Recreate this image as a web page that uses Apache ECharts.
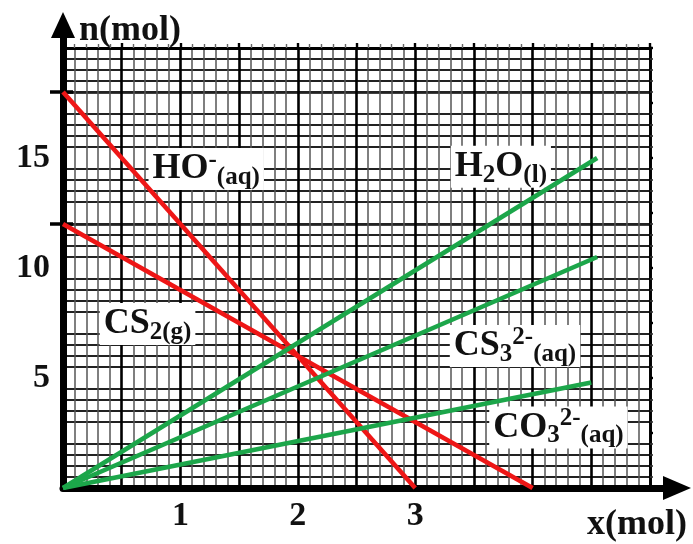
<!DOCTYPE html>
<html>
<head>
<meta charset="utf-8">
<script src="https://cdn.jsdelivr.net/npm/echarts@6/dist/echarts.min.js"></script>
<style>html,body{margin:0;padding:0;background:#fff}#c{width:693px;height:544px}</style>
</head>
<body>
<div id="c"></div>
<script>
// ---- data ----
const hydroxide = [[0, 18], [3, 0]];
const carbonDisulfide = [[0, 12], [4, 0]];
const water = [[0, 0], [4.55, 15]];
const trithiocarbonate = [[0, 0], [4.55, 10.5]];
const carbonate = [[0, 0], [4.5, 4.8]];
const xTickLabels = [1, 2, 3];
const yTickLabels = [5, 10, 15];
const yMarkTicks = [12, 18];
const xName = 'x(mol)';
const yName = 'n(mol)';

const SERIF = '"Liberation Serif", "Times New Roman", serif';
const RED = '#ee1616';
const GREEN = '#1ca64a';

const rich = {
  b: {fontFamily: SERIF, fontWeight: 'bold', fontSize: 36, color: '#111', lineHeight: 42, verticalAlign: 'middle'},
  sub: {fontFamily: SERIF, fontWeight: 'bold', fontSize: 25, color: '#111', lineHeight: 22, verticalAlign: 'bottom'},
  sub2: {fontFamily: SERIF, fontWeight: 'bold', fontSize: 25, color: '#111', lineHeight: 30, verticalAlign: 'bottom'},
  sup: {fontFamily: SERIF, fontWeight: 'bold', fontSize: 25, color: '#111', lineHeight: 22, verticalAlign: 'top'}
};

function tag(coord, text) {
  return {
    symbol: 'rect', symbolSize: 1, itemStyle: {color: 'rgba(0,0,0,0)'},
    label: {show: true, position: 'inside', formatter: text, backgroundColor: '#fff', padding: [0, 4, 0, 4], rich: rich},
    data: [{coord: coord}]
  };
}

function lineSeries(name, data, color, mark) {
  return {
    name: name, type: 'line', xAxisIndex: 0, yAxisIndex: 0, data: data,
    showSymbol: false, symbol: 'none', z: 5,
    lineStyle: {color: color, width: 4.6, cap: 'butt'},
    markPoint: mark, animation: false
  };
}

const chart = echarts.init(document.getElementById('c'));
const major = {show: true, lineStyle: {color: '#000', width: 2.6}};
const labelFont = {fontFamily: SERIF, fontWeight: 'bold', fontSize: 34, color: '#111'};

chart.setOption({
  animation: false,
  backgroundColor: '#fff',
  grid: [
    {left: 63, top: 48, width: 587, height: 440, containLabel: false},
    {left: 63, top: 25, width: 614, height: 463, containLabel: false}
  ],
  xAxis: [
    {
      gridIndex: 0, type: 'value', min: 0, max: 5, interval: 0.5, position: 'bottom',
      axisLine: {show: false}, axisTick: {show: false},
      axisLabel: {customValues: xTickLabels, margin: 11, ...labelFont},
      splitLine: major,
      minorTick: {show: false, splitNumber: 5},
      minorSplitLine: {show: true, lineStyle: {color: '#555', width: 1.5}}
    },
    {
      gridIndex: 0, type: 'value', min: 0, max: 5, interval: 0.5, position: 'top',
      axisLine: {show: true, onZero: false, lineStyle: {color: '#000', width: 2.8}},
      axisTick: {show: true, length: 5, lineStyle: {color: '#000', width: 2.4}},
      minorTick: {show: true, splitNumber: 5, length: 4, lineStyle: {color: '#666', width: 1.4}},
      axisLabel: {show: false}, splitLine: {show: false}
    },
    {
      gridIndex: 1, type: 'value', min: 0, max: 1, name: xName, nameLocation: 'end', nameGap: 10,
      nameTextStyle: {fontFamily: SERIF, fontWeight: 'bold', fontSize: 36, color: '#111', align: 'right', verticalAlign: 'top', padding: [19, 0, 0, 0]},
      axisLine: {show: true, onZero: false, symbol: ['none', 'triangle'], symbolSize: [24, 28], lineStyle: {color: '#000', width: 7}},
      axisTick: {show: false}, axisLabel: {show: false}, splitLine: {show: false}
    }
  ],
  yAxis: [
    {
      gridIndex: 0, type: 'value', min: 0, max: 20, interval: 2.5, position: 'left',
      axisLine: {show: false},
      axisTick: {show: true, customValues: yMarkTicks, length: 13, lineStyle: {color: '#000', width: 3.5}},
      axisLabel: {customValues: yTickLabels, margin: 13, ...labelFont},
      splitLine: major,
      minorTick: {show: false, splitNumber: 5},
      minorSplitLine: {show: true, lineStyle: {color: '#222', width: 1.9}}
    },
    {
      gridIndex: 0, type: 'value', min: 0, max: 20, interval: 2.5, position: 'left',
      axisLine: {show: false},
      axisTick: {show: true, inside: true, customValues: yMarkTicks, length: 10, lineStyle: {color: '#000', width: 3.5}},
      axisLabel: {show: false}, splitLine: {show: false}
    },
    {
      gridIndex: 0, type: 'value', min: 0, max: 20, interval: 2.5, position: 'right',
      axisLine: {show: true, onZero: false, lineStyle: {color: '#000', width: 2.8}},
      axisTick: {show: true, length: 3, lineStyle: {color: '#000', width: 2.4}},
      minorTick: {show: true, splitNumber: 5, length: 3, lineStyle: {color: '#333', width: 1.6}},
      axisLabel: {show: false}, splitLine: {show: false}
    },
    {
      gridIndex: 1, type: 'value', min: 0, max: 1, name: yName, nameLocation: 'end', nameGap: -6,
      nameTextStyle: {fontFamily: SERIF, fontWeight: 'bold', fontSize: 36, color: '#111', align: 'left', verticalAlign: 'middle', padding: [0, 0, 0, 16]},
      axisLine: {show: true, onZero: false, symbol: ['none', 'triangle'], symbolSize: [24, 26], lineStyle: {color: '#000', width: 7}},
      axisTick: {show: false}, axisLabel: {show: false}, splitLine: {show: false}
    }
  ],
  series: [
    lineSeries('HO⁻(aq)', hydroxide, RED, tag([1.22, 14.5], '{b|HO}{sup|-}{sub|(aq)}')),
    lineSeries('CS₂(g)', carbonDisulfide, RED, tag([0.72, 7.45], '{b|CS}{sub|2(g)}')),
    lineSeries('H₂O(l)', water, GREEN, tag([3.73, 14.6], '{b|H}{sub2|2}{b|O}{sub|(l)}')),
    lineSeries('CS₃²⁻(aq)', trithiocarbonate, GREEN, tag([3.85, 6.45], '{b|CS}{sub2|3}{sup|2-}{sub|(aq)}')),
    lineSeries('CO₃²⁻(aq)', carbonate, GREEN, tag([4.22, 2.75], '{b|CO}{sub2|3}{sup|2-}{sub|(aq)}'))
  ]
});
</script>
</body>
</html>
